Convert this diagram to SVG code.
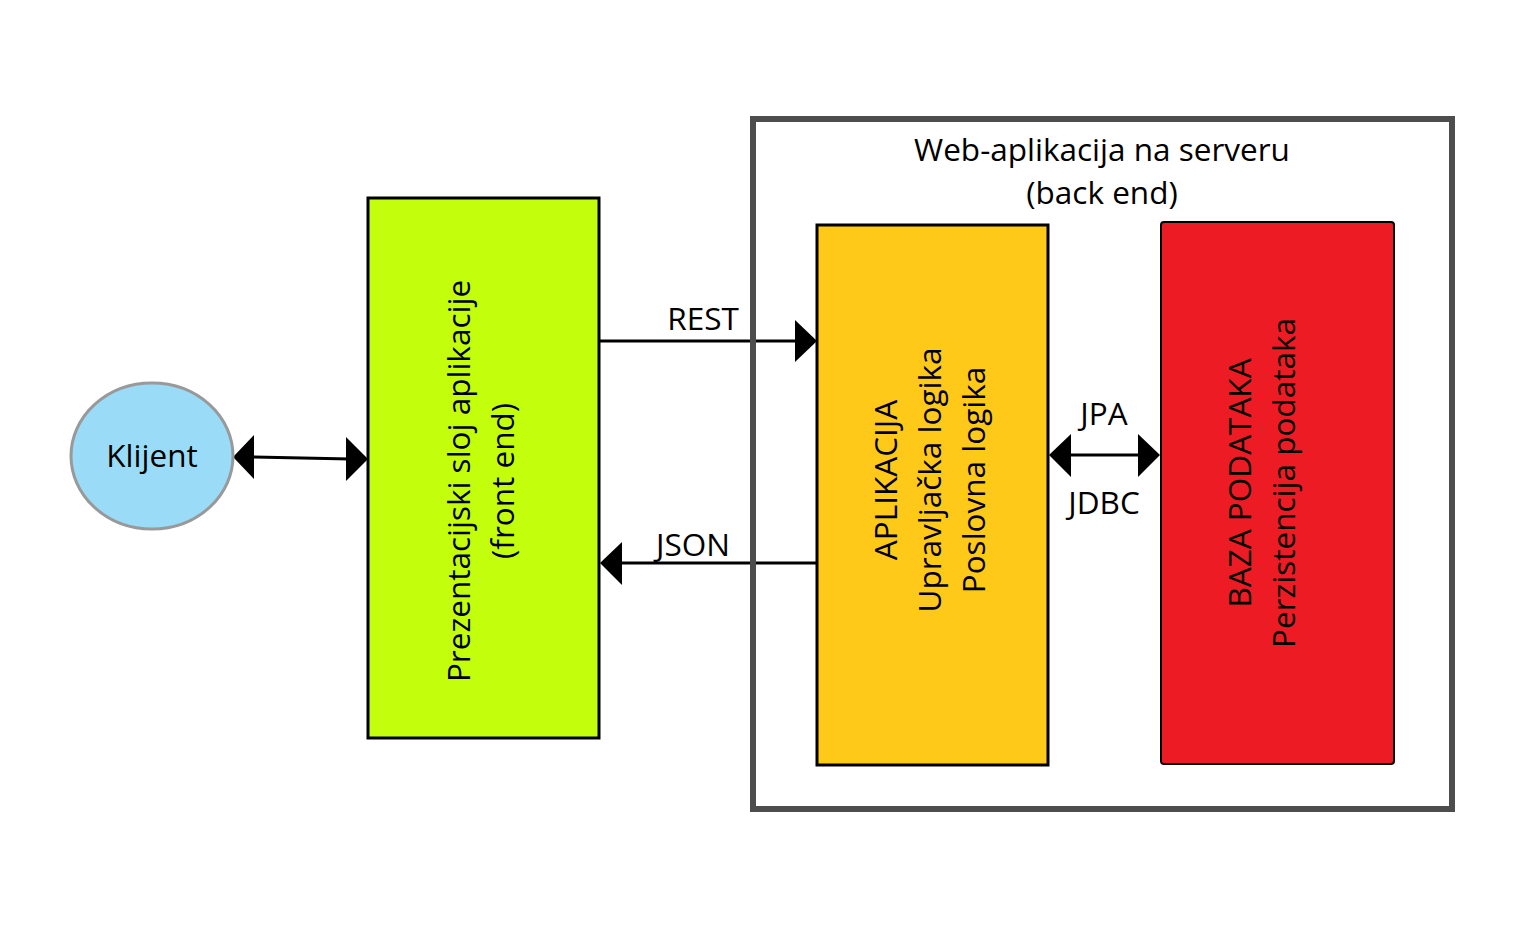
<svg xmlns="http://www.w3.org/2000/svg" width="1537" height="947" viewBox="0 0 1537 947">
<defs>
<style>
text{font-family:"Open Sans","Noto Sans","Liberation Sans",sans-serif;fill:#000;font-size:31.5px;}
.mid{text-anchor:middle;}
.ln{stroke:#000;stroke-width:3;fill:none;}
.ah{fill:#000;}
</style>
</defs>
<rect width="1537" height="947" fill="#fff"/>
<g id="connectors">
<line class="ln" x1="250" y1="457" x2="350" y2="459"/>
<polygon class="ah" points="233,457 254,435 254,479"/>
<polygon class="ah" points="368,459 346,437 346,481"/>
<line class="ln" x1="600" y1="341" x2="800" y2="341"/>
<polygon class="ah" points="817,341 795,320 795,362"/>
<line class="ln" x1="821" y1="563" x2="615" y2="563"/>
<polygon class="ah" points="600,563 622,542 622,585"/>
<line class="ln" x1="1065" y1="455" x2="1145" y2="455"/>
<polygon class="ah" points="1049,455 1071,434 1071,477"/>
<polygon class="ah" points="1160,455 1138,434 1138,477"/>
<text class="mid" x="703" y="330">REST</text>
<text class="mid" x="693" y="556">JSON</text>
<text class="mid" x="1104" y="425">JPA</text>
<text class="mid" x="1104" y="514">JDBC</text>
</g>
<g id="backend">
<rect x="753" y="119" width="699" height="690" fill="none" stroke="#4d4d4d" stroke-width="6"/>
<text class="mid" x="1102" y="161">Web-aplikacija na serveru</text>
<text class="mid" x="1102" y="204">(back end)</text>
</g>
<g id="klijent">
<ellipse cx="152" cy="456" rx="81" ry="73" fill="#9adcf8" stroke="#999" stroke-width="3"/>
<text class="mid" x="152" y="467">Klijent</text>
</g>
<g id="frontend">
<rect x="368" y="198" width="231" height="540" fill="#c3ff0d" stroke="#000" stroke-width="3"/>
<g transform="translate(459,481) rotate(-90)">
<text class="mid" x="0" y="11">Prezentacijski sloj aplikacije</text>
<text class="mid" x="0" y="55">(front end)</text>
</g>
</g>
<g id="aplikacija">
<rect x="817" y="225" width="231" height="540" fill="#fec918" stroke="#000" stroke-width="3"/>
<g transform="translate(886,480) rotate(-90)">
<text class="mid" x="0" y="11">APLIKACIJA</text>
<text class="mid" x="0" y="55">Upravljačka logika</text>
<text class="mid" x="0" y="99">Poslovna logika</text>
</g>
</g>
<g id="baza">
<rect x="1161" y="222" width="233" height="542" rx="3" fill="#ed1c24" stroke="#000" stroke-width="2"/>
<g transform="translate(1240,483) rotate(-90)">
<text class="mid" x="0" y="11">BAZA PODATAKA</text>
<text class="mid" x="0" y="55">Perzistencija podataka</text>
</g>
</g>
</svg>
